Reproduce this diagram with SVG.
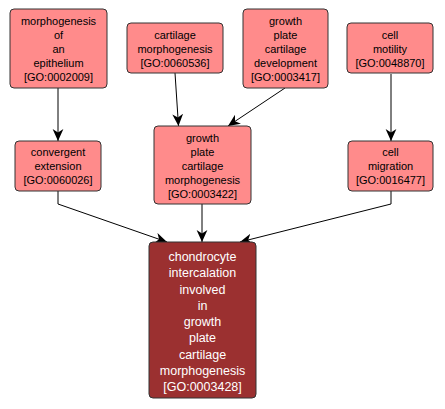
<svg xmlns="http://www.w3.org/2000/svg" width="445" height="409" viewBox="0 0 445 409">
<defs>
<style>
.n rect{fill:#ff8b8b;stroke:#333;stroke-width:1}
.n text{font-family:"Liberation Sans",Arial,sans-serif;font-size:11px;fill:#000;text-anchor:middle}
.d rect{fill:#9b3030;stroke:#333;stroke-width:1}
.d text{font-family:"Liberation Sans",Arial,sans-serif;font-size:12.5px;fill:#fff;text-anchor:middle}
.e{fill:none;stroke:#000;stroke-width:1;marker-end:url(#ah)}
</style>
<marker id="ah" markerUnits="userSpaceOnUse" markerWidth="12" markerHeight="12" viewBox="0 0 10 10" refX="10" refY="5" orient="auto">
<path d="M0,0.5 L10,5 L0,9.5 L3,5 z" fill="#000"/>
</marker>
</defs>
<g id="edges">
<path class="e" d="M58,88 L58,141"/>
<path class="e" d="M175,73 L178.5,126"/>
<path class="e" d="M285,88 L228,126"/>
<path class="e" d="M391,74 L391,141"/>
<path class="e" d="M58,191 L58,204 L167,242"/>
<path class="e" d="M202,204 L202,242"/>
<path class="e" d="M391,191 L391,204 L240,242"/>
</g>
<g id="n1" class="n"><rect x="10" y="9" width="97" height="79" rx="4"/>
<text x="58.5" y="25">morphogenesis</text><text x="58.5" y="39">of</text><text x="58.5" y="53">an</text><text x="58.5" y="67">epithelium</text><text x="58.5" y="81">[GO:0002009]</text></g>
<g id="n2" class="n"><rect x="127" y="23" width="96" height="50" rx="4"/>
<text x="175" y="39">cartilage</text><text x="175" y="53">morphogenesis</text><text x="175" y="67">[GO:0060536]</text></g>
<g id="n3" class="n"><rect x="243" y="9" width="85" height="79" rx="4"/>
<text x="285.5" y="25">growth</text><text x="285.5" y="39">plate</text><text x="285.5" y="53">cartilage</text><text x="285.5" y="67">development</text><text x="285.5" y="81">[GO:0003417]</text></g>
<g id="n4" class="n"><rect x="347" y="23" width="86" height="50" rx="4"/>
<text x="390" y="39">cell</text><text x="390" y="53">motility</text><text x="390" y="67">[GO:0048870]</text></g>
<g id="n5" class="n"><rect x="15" y="141" width="86" height="50" rx="4"/>
<text x="58" y="156">convergent</text><text x="58" y="170">extension</text><text x="58" y="184">[GO:0060026]</text></g>
<g id="n6" class="n"><rect x="154" y="126" width="97" height="78" rx="4"/>
<text x="202.5" y="142">growth</text><text x="202.5" y="156">plate</text><text x="202.5" y="170">cartilage</text><text x="202.5" y="184">morphogenesis</text><text x="202.5" y="198">[GO:0003422]</text></g>
<g id="n7" class="n"><rect x="348" y="141" width="85" height="50" rx="4"/>
<text x="390.5" y="156">cell</text><text x="390.5" y="170">migration</text><text x="390.5" y="184">[GO:0016477]</text></g>
<g id="n8" class="d"><rect x="149" y="242" width="107" height="156" rx="4"/>
<text x="202.5" y="261">chondrocyte</text><text x="202.5" y="277.25">intercalation</text><text x="202.5" y="293.5">involved</text><text x="202.5" y="309.75">in</text><text x="202.5" y="326">growth</text><text x="202.5" y="342.25">plate</text><text x="202.5" y="358.5">cartilage</text><text x="202.5" y="374.75">morphogenesis</text><text x="202.5" y="391">[GO:0003428]</text></g>
</svg>
